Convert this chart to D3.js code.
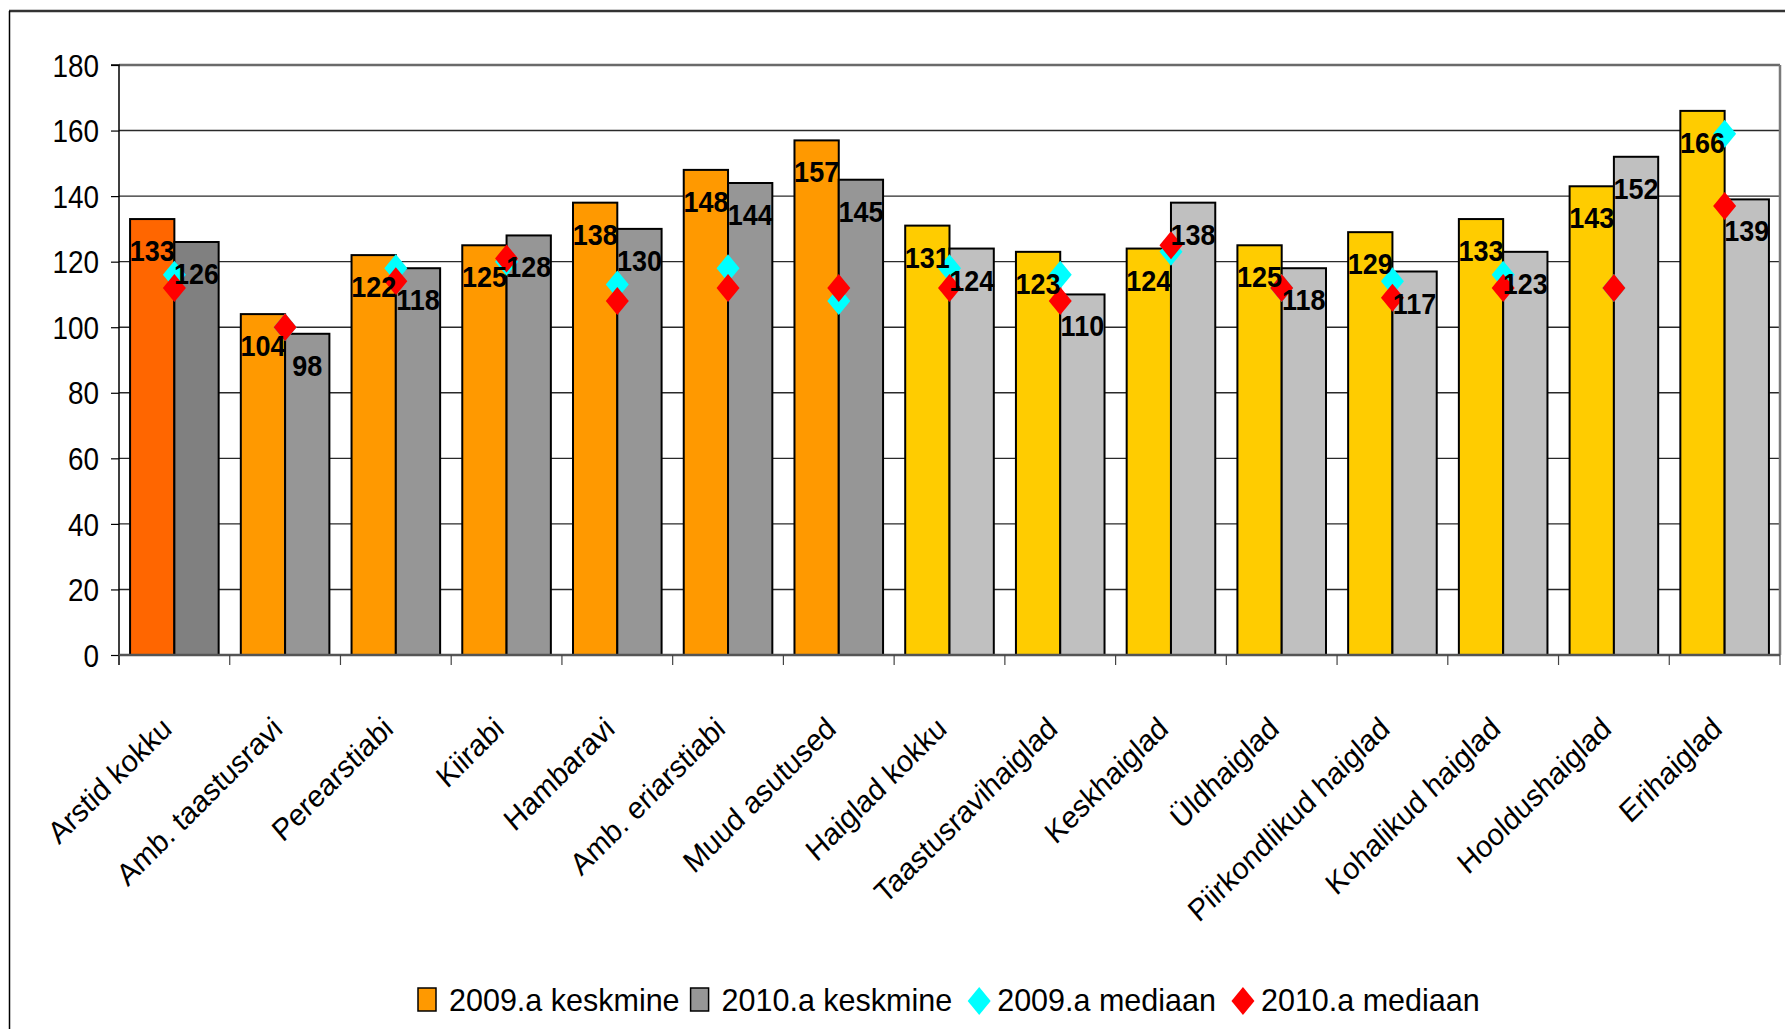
<!DOCTYPE html>
<html><head><meta charset="utf-8">
<script src="https://cdn.jsdelivr.net/npm/d3@7"></script>
<style>
body{margin:0;background:#fff;}
svg{display:block;font-family:"Liberation Sans",Arial,sans-serif;}
</style>
</head><body>
<svg id="chart" width="1785" height="1029"></svg>
<script>
const categories = ["Arstid kokku","Amb. taastusravi","Perearstiabi","Kiirabi","Hambaravi","Amb. eriarstiabi","Muud asutused","Haiglad kokku","Taastusravihaiglad","Keskhaiglad","Üldhaiglad","Piirkondlikud haiglad","Kohalikud haiglad","Hooldushaiglad","Erihaiglad"];
const groups = ["kokku","amb","amb","amb","amb","amb","amb","haigla","haigla","haigla","haigla","haigla","haigla","haigla","haigla"];
const mean2009 = [133,104,122,125,138,148,157,131,123,124,125,129,133,143,166];
const mean2010 = [126,98,118,128,130,144,145,124,110,138,118,117,123,152,139];
const median2009 = [116,100,118,120,113,118,108,118,116,123,112,114,116,112,159];
const median2010 = [112,100,114,121,108,112,112,112,108,125,112,109,112,112,137];
const yTicks = [0,20,40,60,80,100,120,140,160,180];
const seriesNames = ["2009.a keskmine","2010.a keskmine","2009.a mediaan","2010.a mediaan"];

const svg = d3.select("#chart");
const L = 119, R = 1780, T = 65, B = 655;
const SX = 0.9; // horizontal squeeze of the original's text

// colours by group
const col2009 = d3.scaleOrdinal().domain(["kokku","amb","haigla"]).range(["#FF6600","#FF9900","#FFCC00"]);
const col2010 = d3.scaleOrdinal().domain(["kokku","amb","haigla"]).range(["#808080","#969696","#C0C0C0"]);
const medCol = ["#00FFFF","#FF0000"];

// outer frame
svg.append("line").attr("x1",9).attr("x2",1785).attr("y1",11).attr("y2",11).attr("stroke","#333").attr("stroke-width",2.5);
svg.append("line").attr("x1",9.5).attr("x2",9.5).attr("y1",11).attr("y2",1029).attr("stroke","#000").attr("stroke-width",1.5);

const x = d3.scaleBand().domain(categories).range([L,R]).paddingInner(0.2).paddingOuter(0.1);
const x1 = d3.scaleBand().domain(["2009","2010"]).range([0,x.bandwidth()]);
const y = d3.scaleLinear().domain([0,180]).range([B,T]);
const gap = (x.step()-x.bandwidth())/2;

// gridlines
svg.append("g").selectAll("line").data(yTicks.filter(t=>t>0 && t<180)).join("line")
  .attr("x1",L).attr("x2",R).attr("y1",d=>y(d)).attr("y2",d=>y(d))
  .attr("stroke","#2a2a2a").attr("stroke-width",1.4);
// plot border top/right
svg.append("line").attr("x1",L).attr("x2",R).attr("y1",y(180)).attr("y2",y(180)).attr("stroke","#6a6a6a").attr("stroke-width",2.5);
svg.append("line").attr("x1",R).attr("x2",R).attr("y1",y(180)).attr("y2",y(0)).attr("stroke","#7a7a7a").attr("stroke-width",2.5);

// bars
const g = svg.append("g");
categories.forEach((c,i)=>{
  const gx = x(c);
  g.append("rect").attr("x",gx+x1("2009")).attr("y",y(mean2009[i]))
    .attr("width",x1.bandwidth()).attr("height",y(0)-y(mean2009[i]))
    .attr("fill",col2009(groups[i])).attr("stroke","#000").attr("stroke-width",2);
  g.append("rect").attr("x",gx+x1("2010")).attr("y",y(mean2010[i]))
    .attr("width",x1.bandwidth()).attr("height",y(0)-y(mean2010[i]))
    .attr("fill",col2010(groups[i])).attr("stroke","#000").attr("stroke-width",2);
});

// y axis
const yAxis = svg.append("g").attr("transform",`translate(${L},0)`)
  .call(d3.axisLeft(y).tickValues(yTicks).tickSize(8).tickPadding(12));
yAxis.select(".domain").attr("stroke","#000").attr("stroke-width",1.5).attr("d",`M-8,${T}H0V${B+10}`);
yAxis.selectAll(".tick line").attr("stroke","#000").attr("stroke-width",1.2);
yAxis.selectAll("text").attr("font-size",31).attr("fill","#000")
  .attr("font-family","Liberation Sans, Arial, sans-serif")
  .attr("x",-20/SX).attr("dy","0.36em").attr("transform",`scale(${SX},1)`);

// x axis baseline + boundary ticks
svg.append("line").attr("x1",L).attr("x2",R).attr("y1",B).attr("y2",B).attr("stroke","#555").attr("stroke-width",2.5);
const bounds = categories.map(c=>x(c)-gap).concat([R]);
svg.append("g").selectAll("line").data(bounds).join("line")
  .attr("x1",d=>d).attr("x2",d=>d).attr("y1",B).attr("y2",B+10)
  .attr("stroke","#444").attr("stroke-width",1.2);

// x labels
const xAxis = svg.append("g").attr("transform",`translate(0,${B})`)
  .call(d3.axisBottom(x).tickSize(0));
xAxis.select(".domain").remove();
xAxis.selectAll("text")
  .attr("y",null).attr("dy",null)
  .attr("text-anchor","end")
  .attr("font-size",31).attr("fill","#000").attr("font-family","Liberation Sans, Arial, sans-serif")
  .attr("transform","translate(-1,76) scale(0.92,1) rotate(-42.6)");

// median diamonds
const diamond = (cx,cy)=>`M${cx},${cy-14}L${cx+11.5},${cy}L${cx},${cy+14}L${cx-11.5},${cy}Z`;
[median2009, median2010].forEach((arr,k)=>{
  svg.append("g").selectAll("path").data(arr).join("path")
    .attr("d",(d,i)=>diamond(x(categories[i])+x.bandwidth()/2, y(d)))
    .attr("fill",medCol[k]);
});

// data labels
const lab = svg.append("g").attr("font-weight","bold").attr("font-size",30).attr("text-anchor","middle").attr("fill","#000");
categories.forEach((c,i)=>{
  lab.append("text")
    .attr("transform",`translate(${x(c)+x1("2009")+x1.bandwidth()/2},${y(mean2009[i])+42}) scale(${SX},1)`)
    .text(mean2009[i]);
  lab.append("text")
    .attr("transform",`translate(${x(c)+x1("2010")+x1.bandwidth()/2},${y(mean2010[i])+42}) scale(${SX},1)`)
    .text(mean2010[i]);
});

// legend
const leg = svg.append("g");
let lx = 418;
const legendMarks = [
  {type:"box", fill:col2009("amb")},
  {type:"box", fill:col2010("amb")},
  {type:"dia", fill:medCol[0]},
  {type:"dia", fill:medCol[1]}
];
seriesNames.forEach((name,i)=>{
  const mk = legendMarks[i];
  if(mk.type==="box"){
    leg.append("rect").attr("x",lx).attr("y",988).attr("width",18).attr("height",23)
      .attr("fill",mk.fill).attr("stroke","#000").attr("stroke-width",1.5);
    lx += 18 + 13;
  } else {
    lx += 5;
    leg.append("path").attr("d",diamond(lx+11,1001)).attr("fill",mk.fill);
    lx += 22 + 7;
  }
  const t = leg.append("text").attr("x",lx).attr("y",1011).attr("font-size",30.5).attr("fill","#000").text(name);
  lx += t.node().getComputedTextLength() + 11;
});
</script>
</body></html>
